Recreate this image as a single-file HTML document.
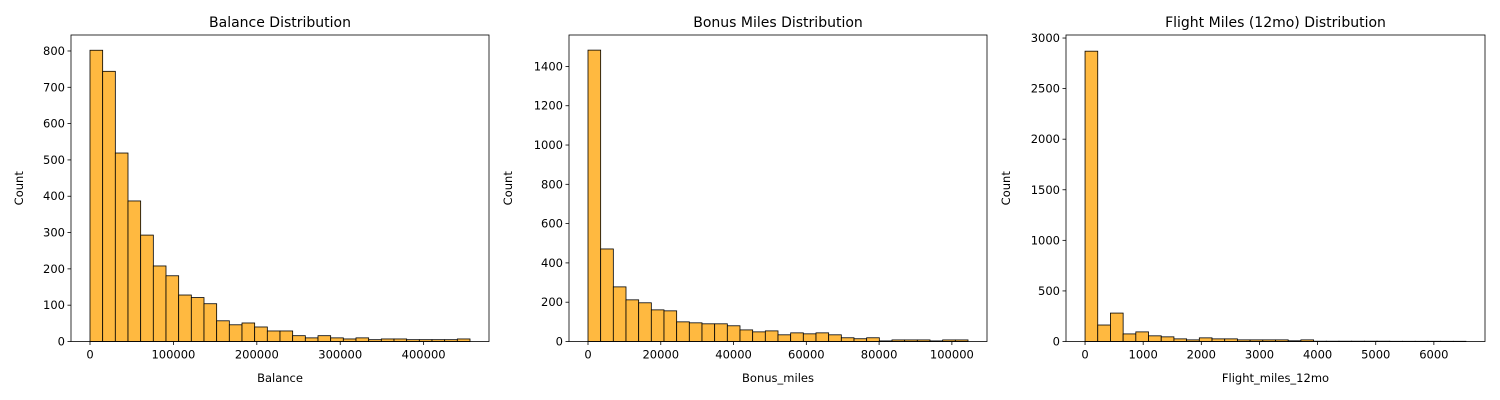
<!DOCTYPE html>
<html><head><meta charset="utf-8"><style>
body{margin:0;background:#fff;}
svg{display:block;font-family:"DejaVu Sans","Liberation Sans",sans-serif;}
</style></head><body>
<svg id="chart" width="1500" height="400" viewBox="0 0 1500 400" xmlns="http://www.w3.org/2000/svg"></svg>
<script>
const balanceCounts = [802,744,519,387,293,208,181,128,121,104,57,46,51,40,29,29,16,10,16,10,7,10,5,7,7,5,5,5,5,7];
const bonusCounts = [1483,471,278,212,197,161,156,100,95,90,90,80,59,49,54,34,44,39,44,34,19,14,19,3,8,8,8,3,8,8];
const flightCounts = [2870,163,281,75,95,56,46,26,16,36,26,26,16,16,16,16,7,16,3,3,3,3,3,3,2,2,2,2,2,2];
const balanceRange = [0,455600];
const bonusRange = [0,104430];
const flightRange = [0,6552];
const balanceXTicks = [0,100000,200000,300000,400000];
const bonusXTicks = [0,20000,40000,60000,80000,100000];
const flightXTicks = [0,1000,2000,3000,4000,5000,6000];
const balanceYTicks = [0,100,200,300,400,500,600,700,800];
const bonusYTicks = [0,200,400,600,800,1000,1200,1400];
const flightYTicks = [0,500,1000,1500,2000,2500,3000];
const titles = ["Balance Distribution","Bonus Miles Distribution","Flight Miles (12mo) Distribution"];
const xLabels = ["Balance","Bonus_miles","Flight_miles_12mo"];

const NS="http://www.w3.org/2000/svg";
const svgRoot=document.getElementById('chart');
function mk(tag,attrs,parent){const e=document.createElementNS(NS,tag);for(const k in attrs)e.setAttribute(k,attrs[k]);(parent||svgRoot).appendChild(e);return e;}

const panels=[
 {counts:balanceCounts,range:balanceRange,xt:balanceXTicks,yt:balanceYTicks,ymax:844,x0:71,x1:489,slug:'balance'},
 {counts:bonusCounts,range:bonusRange,xt:bonusXTicks,yt:bonusYTicks,ymax:1560,x0:569,x1:987,slug:'bonus-miles'},
 {counts:flightCounts,range:flightRange,xt:flightXTicks,yt:flightYTicks,ymax:3030,x0:1066,x1:1485,slug:'flight-miles'}
];
const plotTop=35,plotBot=341.5;
panels.forEach((p,pi)=>{
 const g=mk('g',{});
 
 
 const span=p.range[1]-p.range[0];
 const pad=span*0.05;
 const dx0=p.range[0]-pad, dx1=p.range[1]+pad;
 const sx=v=>p.x0+(v-dx0)/(dx1-dx0)*(p.x1-p.x0);
 const sy=v=>plotBot-v/p.ymax*(plotBot-plotTop);
 const bw=span/p.counts.length;
 p.counts.forEach((c,i)=>{
  const xa=sx(p.range[0]+i*bw), xb=sx(p.range[0]+(i+1)*bw);
  const r=mk('rect',{x:xa,y:sy(c),width:xb-xa,height:plotBot-sy(c),fill:'#ffb940',stroke:'#000','stroke-width':0.8},g);
  
  
 });
 const fr=mk('rect',{x:p.x0,y:plotTop,width:p.x1-p.x0,height:plotBot-plotTop,fill:'none',stroke:'#000','stroke-width':0.8},g);
 
 
 p.xt.forEach(t=>{
  const x=sx(t);
  mk('line',{x1:x,x2:x,y1:plotBot,y2:plotBot+3.5,stroke:'#000','stroke-width':0.8},g);
  const tx=mk('text',{x:x,y:plotBot+17,'text-anchor':'middle','font-size':11.5,fill:'#000'},g);
  tx.textContent=t;
  
  
 });
 p.yt.forEach(t=>{
  const y=sy(t);
  mk('line',{x1:p.x0-3.5,x2:p.x0,y1:y,y2:y,stroke:'#000','stroke-width':0.8},g);
  const tx=mk('text',{x:p.x0-6,y:y+4,'text-anchor':'end','font-size':11.5,fill:'#000'},g);
  tx.textContent=t;
  
  
 });
 const ti=mk('text',{x:(p.x0+p.x1)/2,y:27,'text-anchor':'middle','font-size':14,fill:'#000'},g);
 ti.textContent=titles[pi];
 
 
 const xl=mk('text',{x:(p.x0+p.x1)/2,y:382,'text-anchor':'middle','font-size':11.5,fill:'#000'},g);
 xl.textContent=xLabels[pi];
 
 
 const lx=p.x0-(pi===0?48:(pi===1?57:56)), ly=(plotTop+plotBot)/2;
 const yl=mk('text',{x:lx,y:ly,'text-anchor':'middle','font-size':11.5,fill:'#000',transform:`rotate(-90 ${lx} ${ly})`},g);
 yl.textContent='Count';
 
 
});
</script>
</body></html>
